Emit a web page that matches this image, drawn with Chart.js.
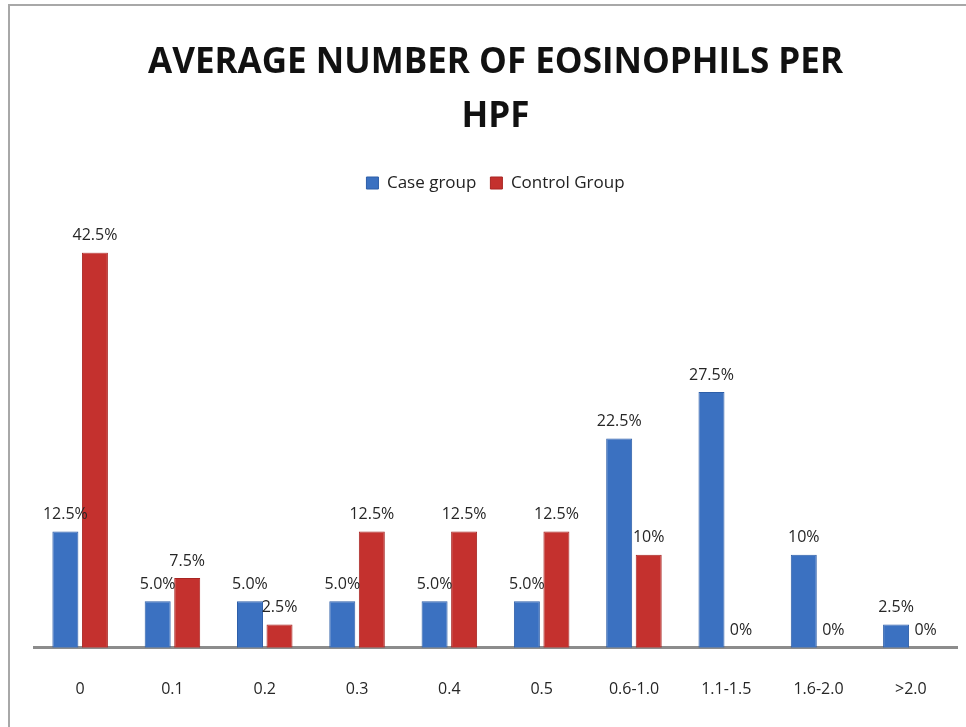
<!DOCTYPE html>
<html>
<head>
<meta charset="utf-8">
<script src="https://cdn.jsdelivr.net/npm/chart.js@4.4.0/dist/chart.umd.min.js"></script>
<style>
  html, body { margin: 0; padding: 0; background: #fff; }
  #wrap {
    position: absolute; left: 8px; top: 4px; width: 958px; height: 721px;
    border-top: 2px solid #a8a8a8; border-left: 2px solid #a8a8a8; border-bottom: 1px solid #dcdcdc;
  }
</style>
</head>
<body>
<div id="wrap"><canvas id="chart"></canvas></div>
<script>
const categories = ['0', '0.1', '0.2', '0.3', '0.4', '0.5', '0.6-1.0', '1.1-1.5', '1.6-2.0', '>2.0'];
const caseGroup = [12.5, 5.0, 5.0, 5.0, 5.0, 5.0, 22.5, 27.5, 10, 2.5];
const controlGroup = [42.5, 7.5, 2.5, 12.5, 12.5, 12.5, 10, 0, 0, 0];
const caseLabels = ['12.5%', '5.0%', '5.0%', '5.0%', '5.0%', '5.0%', '22.5%', '27.5%', '10%', '2.5%'];
const controlLabels = ['42.5%', '7.5%', '2.5%', '12.5%', '12.5%', '12.5%', '10%', '0%', '0%', '0%'];

const fontFam = "'Open Sans', sans-serif";

// push the plot area down below the legend
const legendSpacer = {
  id: 'legendSpacer',
  beforeInit(chart) {
    const fit = chart.legend.fit;
    chart.legend.fit = function () {
      fit.bind(chart.legend)();
      this.height += 51;
    };
  }
};

// value labels above each bar
const barLabels = {
  id: 'barLabels',
  afterDatasetsDraw(chart) {
    const ctx = chart.ctx;
    ctx.save();
    ctx.font = '16px ' + fontFam;
    ctx.fillStyle = '#262626';
    ctx.textAlign = 'center';
    ctx.textBaseline = 'bottom';
    chart.data.datasets.forEach((ds, i) => {
      const meta = chart.getDatasetMeta(i);
      const labels = i === 0 ? caseLabels : controlLabels;
      meta.data.forEach((bar, j) => {
        ctx.fillText(labels[j], bar.x, bar.y - 9);
      });
    });
    ctx.restore();
  }
};

new Chart(document.getElementById('chart'), {
  type: 'bar',
  data: {
    labels: categories,
    datasets: [
      { label: 'Case group', data: caseGroup, backgroundColor: '#3b71c1', borderColor: '#2d5ea8', borderWidth: 1 },
      { label: 'Control Group', data: controlGroup, backgroundColor: '#c4312e', borderColor: '#a82522', borderWidth: 1 }
    ]
  },
  options: {
    responsive: true,
    maintainAspectRatio: false,
    animation: false,
    layout: { padding: { left: 24, right: 11, top: 30, bottom: 4 } },
    categoryPercentage: 0.64,
    barPercentage: 0.88,
    plugins: {
      title: {
        display: true,
        text: ['AVERAGE NUMBER OF EOSINOPHILS PER', 'HPF'],
        color: '#111',
        font: { family: fontFam, size: 35, weight: 'bold', lineHeight: 1.55 },
        padding: { top: 0, bottom: 16 }
      },
      legend: {
        display: true,
        labels: {
          color: '#222',
          font: { family: fontFam, size: 17 },
          boxWidth: 12,
          boxHeight: 12,
          padding: 14
        }
      },
      tooltip: { enabled: false }
    },
    scales: {
      x: {
        grid: { display: false },
        border: { display: true, color: '#8c8c8c', width: 3 },
        ticks: { color: '#262626', font: { family: fontFam, size: 16 }, padding: 24 }
      },
      y: {
        display: false,
        min: 0,
        max: 42.5
      }
    }
  },
  plugins: [legendSpacer, barLabels]
});
</script>
</body>
</html>
